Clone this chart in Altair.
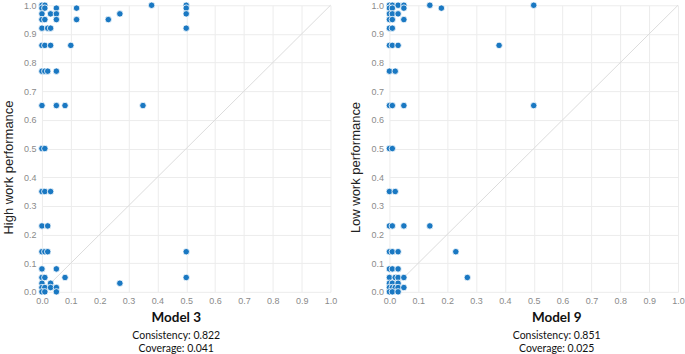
import altair as alt
import pandas as pd

# Model 3 (high work performance)
m3_x = [0, 0.01, 0, 0.01, 0.05, 0.12, 0.38, 0.5, 0.5,
        0, 0.03, 0.05, 0.27, 0.5,
        0, 0.01, 0.05, 0.12, 0.23,
        0, 0.02, 0.03, 0.5,
        0, 0.01, 0.03, 0.10,
        0, 0.01, 0.02, 0.05,
        0, 0.05, 0.08, 0.35,
        0, 0.01,
        0, 0.01, 0.03,
        0, 0.02,
        0, 0.01, 0.02, 0.5,
        0, 0.05,
        0, 0.01, 0.08, 0.5,
        0, 0.03, 0.27,
        0, 0.01, 0.03, 0.05,
        0, 0.01, 0.05]
m3_y = [1.0, 1.0, 0.99, 0.99, 0.99, 0.99, 1.0, 1.0, 0.99,
        0.97, 0.97, 0.97, 0.97, 0.97,
        0.95, 0.95, 0.95, 0.95, 0.95,
        0.92, 0.92, 0.92, 0.92,
        0.86, 0.86, 0.86, 0.86,
        0.77, 0.77, 0.77, 0.77,
        0.65, 0.65, 0.65, 0.65,
        0.5, 0.5,
        0.35, 0.35, 0.35,
        0.23, 0.23,
        0.14, 0.14, 0.14, 0.14,
        0.08, 0.08,
        0.05, 0.05, 0.05, 0.05,
        0.03, 0.03, 0.03,
        0.015, 0.015, 0.015, 0.015,
        0, 0, 0]

# Model 9 (low work performance)
m9_x = [0, 0.01, 0.03, 0.05, 0.14, 0.18, 0.5,
        0, 0.01, 0.05,
        0, 0.01, 0.03,
        0, 0.01, 0.05,
        0, 0.01,
        0, 0.01, 0.03, 0.38,
        0, 0.02,
        0, 0.01, 0.05, 0.5,
        0, 0.01,
        0, 0.02,
        0, 0.01, 0.05, 0.14,
        0, 0.01, 0.03, 0.23,
        0, 0.01, 0.03,
        0, 0.02, 0.03, 0.05, 0.27,
        0, 0.01, 0.03,
        0, 0.01, 0.02, 0.03, 0.05,
        0, 0.01, 0.03]
m9_y = [1.0, 1.0, 1.0, 1.0, 1.0, 0.99, 1.0,
        0.99, 0.99, 0.99,
        0.97, 0.97, 0.97,
        0.95, 0.95, 0.95,
        0.92, 0.92,
        0.86, 0.86, 0.86, 0.86,
        0.77, 0.77,
        0.65, 0.65, 0.65, 0.65,
        0.5, 0.5,
        0.35, 0.35,
        0.23, 0.23, 0.23, 0.23,
        0.14, 0.14, 0.14, 0.14,
        0.08, 0.08, 0.08,
        0.05, 0.05, 0.05, 0.05, 0.05,
        0.03, 0.03, 0.03,
        0.015, 0.015, 0.015, 0.015, 0.015,
        0, 0, 0]

ticks = [0.0, 0.1, 0.2, 0.3, 0.4, 0.5, 0.6, 0.7, 0.8, 0.9, 1.0]
diag = pd.DataFrame({"x": [0, 1], "y": [0, 1]})

BLUE = "#1a78c2"
LABEL = "#8a8a8a"
GRID = "#ececec"


def panel(xs, ys, ytitle, title, sub, dx):
    df = pd.DataFrame({"x": xs, "y": ys})
    common = dict(values=ticks, format=".1f", ticks=False, domain=False,
                  labelColor=LABEL, labelFontSize=9, labelFont="Liberation Sans",
                  labelOverlap=False, labelFlush=False, gridColor=GRID)
    xax = alt.Axis(**common, labelPadding=5, title=None)
    yax = alt.Axis(**common, labelPadding=6, title=ytitle,
                   titleFont="Liberation Sans", titleFontSize=13,
                   titleFontWeight="normal", titleColor="#222", titlePadding=8,
                   titleY=162)
    xs_ = alt.Scale(domain=[0, 1], nice=False, zero=False)
    ys_ = alt.Scale(domain=[0, 1], nice=False, zero=False)
    line = alt.Chart(diag).mark_line(color="#dcdcdc", strokeWidth=1).encode(
        x=alt.X("x:Q", scale=xs_, axis=xax),
        y=alt.Y("y:Q", scale=ys_, axis=yax),
    )
    pts = alt.Chart(df).mark_circle(size=42, color=BLUE, opacity=1,
                                    stroke="white", strokeWidth=0.8).encode(
        x=alt.X("x:Q", scale=xs_, axis=xax),
        y=alt.Y("y:Q", scale=ys_, axis=yax),
    )
    return alt.layer(line, pts).properties(
        width=289, height=287,
        title=alt.TitleParams(text=title, subtitle=sub, orient="bottom",
                              anchor="middle", dx=dx, font="Lato", fontSize=13.5,
                              fontWeight="bold", color="#111", offset=5,
                              subtitleFont="Lato", subtitleFontSize=10.5,
                              subtitleColor="#111", subtitlePadding=7,
                              subtitleLineHeight=12.5),
    )


left = panel(m3_x, m3_y, "High work performance", "Model 3",
             ["Consistency: 0.822", "Coverage: 0.041"], -10)
right = panel(m9_x, m9_y, "Low work performance", "Model 9",
              ["Consistency: 0.851", "Coverage: 0.025"], 23)

chart = alt.hconcat(left, right, spacing=12).properties(
    padding={"left": 2, "top": 0, "right": 0, "bottom": 0},
    background="white",
).configure_view(stroke=None)

chart.save("out.html", embed_options={"renderer": "svg", "actions": False})
